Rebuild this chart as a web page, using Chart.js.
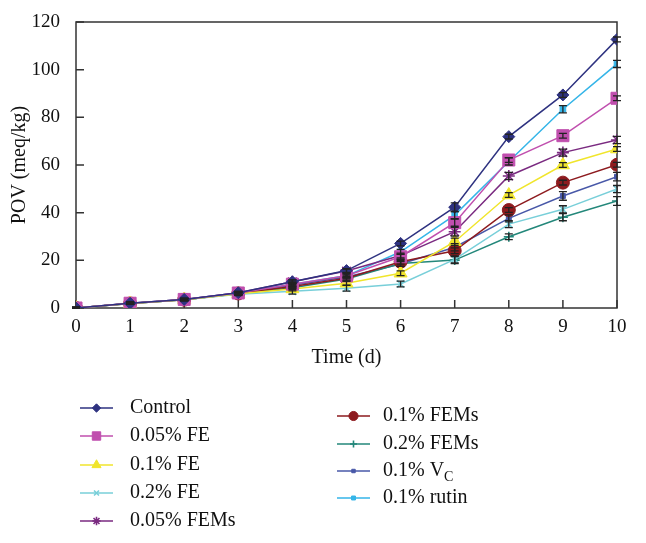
<!DOCTYPE HTML>
<html>
<head>
	<title>POV chart</title>
	<script src="https://cdn.jsdelivr.net/npm/chart.js@4/dist/chart.umd.min.js"></script>
	<style>
		body { margin: 0; background: #fff; }
	</style>
</head>
<body>
	<canvas id="myChart" width="646" height="543"></canvas>
	<script>
		const days = [0, 1, 2, 3, 4, 5, 6, 7, 8, 9, 10];
		const yTicks = [0, 20, 40, 60, 80, 100, 120];

		const control = [0, 2, 3.6, 6.4, 11, 15.7, 27.1, 42.3, 71.9, 89.4, 112.7];
		const fe005 = [0, 2, 3.6, 6.3, 10, 13.5, 21.5, 35.8, 62.1, 72.3, 88];
		const fe01 = [0, 1.9, 3.5, 6, 8, 10.4, 14.6, 27.8, 47.4, 60, 66.7];
		const fe02 = [0, 1.9, 3.5, 5.8, 7, 8.3, 10.1, 20.4, 35.2, 41.4, 49.9];
		const fems005 = [0, 2, 3.6, 6.4, 11, 15.5, 22, 32, 55.4, 65.2, 70.5];
		const fems01 = [0, 1.9, 3.5, 6.1, 9, 12.5, 19.4, 24, 41.1, 52.6, 60.1];
		const fems02 = [0, 1.9, 3.5, 6, 8.5, 12.2, 18.7, 20.1, 29.9, 38.1, 44.9];
		const vc = [0, 1.9, 3.5, 6.1, 9.5, 13, 18.5, 25.5, 37.6, 47, 55.1];
		const rutin = [0, 2, 3.6, 6.3, 10, 13.5, 23.6, 39, 61.5, 83.4, 102.4];

		// standard deviations (error bars)
		const controlErr = [0.3, 0.4, 0.4, 0.6, 0.8, 0.8, 1, 1.8, 1, 1, 1];
		const fe005Err = [0.3, 0.4, 0.4, 0.6, 0.8, 0.8, 1, 1.5, 1, 1, 1];
		const fe01Err = [0.3, 0.4, 0.4, 0.6, 0.8, 0.8, 1, 1.5, 1, 1, 1];
		const fe02Err = [0.3, 0.4, 0.4, 0.6, 1.2, 1.2, 1.2, 1.5, 1.5, 1.5, 1.5];
		const fems005Err = [0.3, 0.4, 0.4, 0.6, 0.8, 0.8, 1, 1.8, 1.5, 1.5, 1.5];
		const fems01Err = [0.3, 0.4, 0.4, 0.6, 0.8, 0.8, 1, 1.2, 1, 1, 1];
		const fems02Err = [0.3, 0.4, 0.4, 0.6, 0.8, 0.8, 1.2, 1.5, 1.2, 1.5, 1.8];
		const vcErr = [0.3, 0.4, 0.4, 0.6, 0.8, 0.8, 1, 1.5, 1.5, 1.8, 1.8];
		const rutinErr = [0.3, 0.4, 0.4, 0.6, 0.8, 0.8, 1, 1.5, 1.5, 1.5, 1.5];

		const FONT = "'Liberation Serif', 'Times New Roman', serif";

		function series(label, values, errs, color, style, radius, fill) {
			return {
				label: label,
				data: days.map((d, i) => ({ x: d, y: values[i] })),
				errors: errs,
				borderColor: color,
				backgroundColor: fill ? color : 'rgba(0,0,0,0)',
				pointBackgroundColor: color,
				pointBorderColor: color,
				pointStyle: style,
				pointRadius: radius,
				pointBorderWidth: fill ? 1 : 1.6,
				borderWidth: 1.5,
				tension: 0
			}
		}

		const datasets = [
			series('Control', control, controlErr, '#2e3280', 'rectRot', 6, true),
			series('0.05% FE', fe005, fe005Err, '#c04fae', 'rect', 8.5, true),
			series('0.1% FE', fe01, fe01Err, '#f0e52c', 'triangle', 7.5, true),
			series('0.2% FE', fe02, fe02Err, '#78cfd9', 'crossRot', 5, false),
			series('0.05% FEMs', fems005, fems005Err, '#7a2a80', 'star', 6, false),
			series('0.1% FEMs', fems01, fems01Err, '#8d1a1e', 'circle', 6.5, true),
			series('0.2% FEMs', fems02, fems02Err, '#23877a', 'cross', 5, false),
			series('0.1% VC', vc, vcErr, '#4858a8', 'rect', 3.5, true),
			series('0.1% rutin', rutin, rutinErr, '#35b5e8', 'rect', 4, true)
		];

		// error bars, inward ticks and frame
		const extras = {
			id: 'extras',
			beforeDatasetsDraw(chart) {
				const ctx = chart.ctx;
				const a = chart.chartArea;
				const xs = chart.scales.x, ys = chart.scales.y;
				ctx.save();
				ctx.strokeStyle = '#333';
				ctx.lineWidth = 1.5;
				ctx.strokeRect(a.left, a.top, a.right - a.left, a.bottom - a.top);
				ctx.beginPath();
				days.forEach(d => {
					const px = xs.getPixelForValue(d);
					ctx.moveTo(px, a.bottom);
					ctx.lineTo(px, a.bottom - 8);
				});
				yTicks.forEach(v => {
					const py = ys.getPixelForValue(v);
					ctx.moveTo(a.left, py);
					ctx.lineTo(a.left + 8, py);
				});
				ctx.stroke();
				ctx.restore();
			},
			afterDatasetsDraw(chart) {
				const ctx = chart.ctx;
				const xs = chart.scales.x, ys = chart.scales.y;
				ctx.save();
				ctx.lineWidth = 1.3;
				chart.data.datasets.forEach(ds => {
					ctx.strokeStyle = '#222';
					ctx.beginPath();
					ds.data.forEach((p, i) => {
						const e = ds.errors[i];
						const px = xs.getPixelForValue(p.x);
						const y1 = ys.getPixelForValue(p.y + e);
						const y2 = ys.getPixelForValue(Math.max(0, p.y - e));
						ctx.moveTo(px, y1); ctx.lineTo(px, y2);
						ctx.moveTo(px - 4, y1); ctx.lineTo(px + 4, y1);
						ctx.moveTo(px - 4, y2); ctx.lineTo(px + 4, y2);
					});
					ctx.stroke();
				});
				ctx.restore();
			},
			afterDraw(chart) {
				const ctx = chart.ctx;
				const cols = [
					{ lineX: 80, textX: 130, rows: [408, 436, 465, 493, 521] },
					{ lineX: 337, textX: 383, rows: [416, 444, 471, 498] }
				];
				ctx.save();
				ctx.font = '20px ' + FONT;
				ctx.textBaseline = 'middle';
				chart.data.datasets.forEach((ds, i) => {
					const col = i < 5 ? cols[0] : cols[1];
					const y = col.rows[i < 5 ? i : i - 5];
					ctx.strokeStyle = ds.borderColor;
					ctx.lineWidth = 1.5;
					ctx.beginPath();
					ctx.moveTo(col.lineX, y);
					ctx.lineTo(col.lineX + 33, y);
					ctx.stroke();
					ctx.fillStyle = ds.pointBackgroundColor;
					ctx.strokeStyle = ds.pointBorderColor;
					ctx.lineWidth = ds.pointBorderWidth;
					Chart.helpers.drawPoint(ctx, {
						pointStyle: ds.pointStyle,
						radius: ds.pointRadius * 0.7,
						borderWidth: ds.pointBorderWidth,
						rotation: 0
					}, col.lineX + 16.5, y);
					ctx.fillStyle = '#111';
					if (ds.label === '0.1% VC') {
						const base = '0.1% V';
						ctx.fillText(base, col.textX, y);
						const w = ctx.measureText(base).width;
						ctx.font = '14px ' + FONT;
						ctx.fillText('C', col.textX + w, y + 6);
						ctx.font = '20px ' + FONT;
					} else {
						ctx.fillText(ds.label, col.textX, y);
					}
				});
				ctx.restore();
			}
		};

		const config = {
			type: 'line',
			data: { datasets: datasets },
			options: {
				responsive: false,
				animation: false,
				layout: { padding: { left: 0, right: 29, top: 22, bottom: 170 } },
				plugins: {
					legend: { display: false },
					tooltip: { enabled: false }
				},
				scales: {
					x: {
						type: 'linear',
						min: 0,
						max: 10,
						afterFit: s => { s.height = 65; },
						grid: { display: false },
						border: { display: false },
						ticks: {
							stepSize: 1,
							padding: 0,
							color: '#111',
							font: { family: FONT, size: 19 }
						},
						title: {
							display: true,
							text: 'Time (d)',
							color: '#111',
							padding: { top: 0, bottom: 3 },
							font: { family: FONT, size: 20 }
						}
					},
					y: {
						type: 'linear',
						min: 0,
						max: 120,
						afterFit: s => { s.width = 76; },
						grid: { display: false },
						border: { display: false },
						ticks: {
							stepSize: 20,
							padding: 8,
							color: '#111',
							font: { family: FONT, size: 19 }
						},
						title: {
							display: true,
							text: 'POV (meq/kg)',
							color: '#111',
							padding: { top: 8, bottom: 0 },
							font: { family: FONT, size: 20 }
						}
					}
				}
			},
			plugins: [extras]
		};

		const myChart = new Chart(document.getElementById('myChart'), config);
	</script>
</body>
</html>
